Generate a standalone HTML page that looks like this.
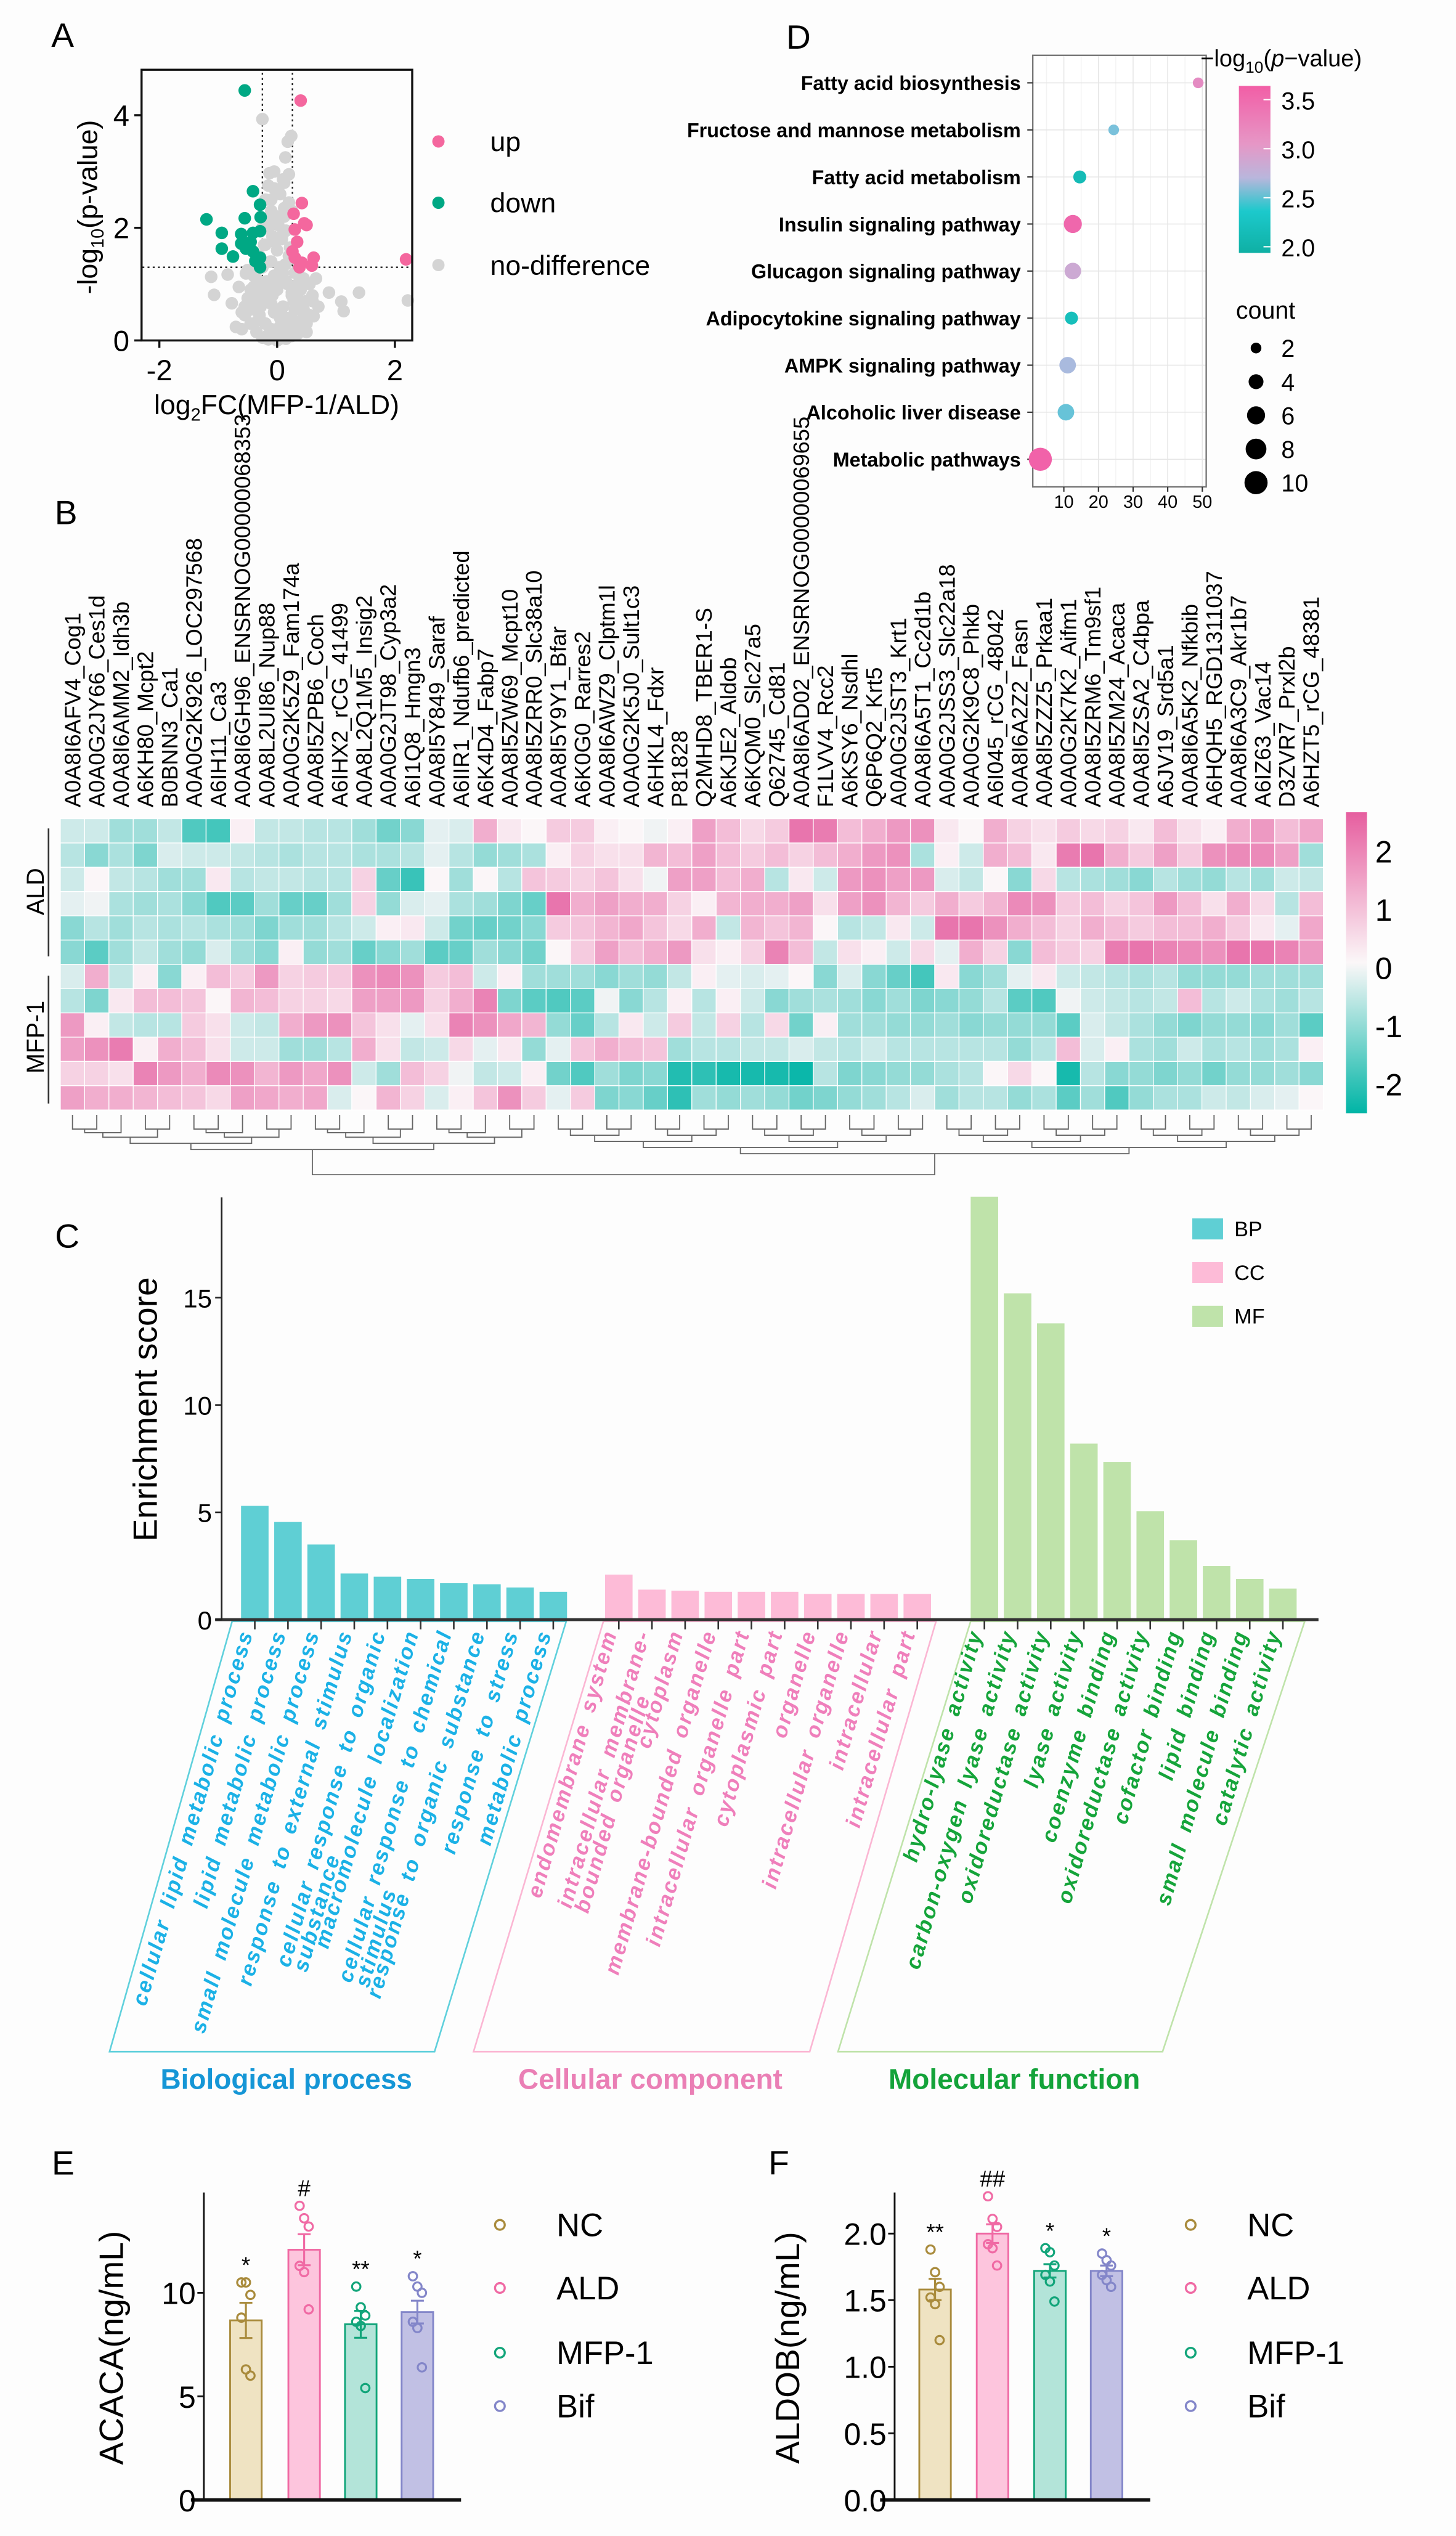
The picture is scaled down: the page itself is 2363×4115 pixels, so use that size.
<!DOCTYPE html>
<html><head><meta charset="utf-8"><style>
html,body{margin:0;padding:0;background:#fdfdfd;}
svg{display:block;font-family:"Liberation Sans",Arial,sans-serif;}
</style></head><body>
<svg id="fig" xmlns="http://www.w3.org/2000/svg" width="2363" height="4115" viewBox="0 0 900 1567.3">
<rect x="0" y="0" width="900" height="1567.3" fill="#fdfdfd"/>
<defs>
<linearGradient id="gD" x1="0" y1="0" x2="0" y2="1">
<stop offset="0" stop-color="#f25ea6"/><stop offset="0.35" stop-color="#e697c6"/><stop offset="0.55" stop-color="#b9b6dc"/><stop offset="0.75" stop-color="#1cc9cc"/><stop offset="1" stop-color="#0fb0a4"/>
</linearGradient>
<linearGradient id="gH" x1="0" y1="0" x2="0" y2="1">
<stop offset="0" stop-color="#e65e9f"/><stop offset="0.5" stop-color="#fbf7f8"/><stop offset="1" stop-color="#00b5a6"/>
</linearGradient>
</defs>
<g id="root"></g>
</svg>
<script>
// ---------- DATA ----------
// Panel A volcano
const upX=[0.40,0.42,0.28,0.46,0.30,0.34,0.26,0.30,0.42,0.62,0.59,2.19,0.38,0.50];
const upY=[4.26,2.44,2.25,2.08,1.97,1.75,1.58,1.47,1.38,1.47,1.33,1.44,1.30,2.05];
const downX=[-0.55,-0.41,-0.29,-0.28,-1.20,-0.55,-0.94,-0.61,-0.41,-0.29,-0.94,-0.61,-0.45,-0.75,-0.41,-0.29,-0.37,-0.29,-0.53];
const downY=[4.44,2.65,2.41,2.19,2.15,2.17,1.91,1.89,1.91,1.94,1.63,1.72,1.75,1.49,1.58,1.47,1.41,1.30,1.63];
const greyX=[-0.25,0.24,0.18,0.14,-0.13,0.10,-0.05,0.05,-0.2,0.2,-0.1,0.12,-0.15,0.02,0.15,-0.08,0.08,-0.22,0.22,0.0,-0.3,0.3,-0.12,0.14,-0.35,0.35,-0.05,0.06,-0.18,0.18,-0.4,0.4,-0.25,0.25,-0.5,0.5,-0.1,0.1,-0.45,0.45,-0.6,0.55,-0.3,0.3,-0.2,0.2,0,-0.35,0.35,-0.15,0.15,-0.55,0.5,-0.02,0.03,-1.12,-0.84,-1.07,0.88,1.39,1.09,1.13,2.22,0.62,-0.70,0.66,-0.77,-0.53,0.38,-0.4,0.42,-0.28,0.28,-0.1,0.1,0.05,-0.05,0.6,-0.65,0.7,0.25,-0.25,0.0,0.12,-0.12,
 -0.45,-0.35,-0.25,-0.15,0,0.15,0.25,0.35,0.45,-0.4,-0.3,-0.2,-0.1,0.05,0.2,0.3,0.4,-0.45,-0.35,-0.2,-0.05,0.1,0.25,0.35,-0.4,-0.3,-0.15,0.0,0.15,0.3,0.45,-0.25,-0.1,0.05,0.2,-0.2,-0.05,0.1,-0.15,0.0,0.12,-0.1,0.05,-0.15,0.12,0.2,-0.05,0.55,0.6,-0.55,-0.6,0.5,0.45,-0.5,0.3,-0.35,0.0,0.08,-0.08,0.05];
const greyY=[3.93,3.63,3.53,3.25,2.97,2.86,2.7,2.6,2.5,2.45,2.3,2.2,2.1,2.05,1.95,1.85,1.8,1.7,1.65,1.6,1.5,1.45,1.4,1.35,1.25,1.2,1.15,1.1,1.05,1.0,0.95,0.9,0.85,0.8,0.75,0.7,0.65,0.6,0.55,0.5,0.5,0.45,0.4,0.35,0.3,0.25,0.2,0.15,0.12,0.1,0.08,0.6,0.3,0.05,0.02,1.13,1.17,0.81,0.85,0.85,0.69,0.52,0.71,0.43,0.24,1.10,0.66,1.19,0.18,0.3,0.2,0.6,0.7,0.9,1.2,0.4,0.5,0.8,0.95,0.6,2.3,2.0,1.0,0.3,0.7,
 0.3,0.15,0.05,0.02,0.0,0.03,0.08,0.2,0.35,0.6,0.45,0.3,0.2,0.25,0.4,0.55,0.7,0.9,0.8,0.7,0.5,0.6,0.85,1.0,1.15,1.05,0.95,0.9,1.05,1.2,1.1,1.3,1.4,1.3,1.5,1.7,1.75,1.9,2.0,2.2,2.35,2.5,2.6,2.75,2.8,2.95,3.0,1.0,0.7,0.45,0.2,0.15,0.55,1.25,0.3,0.55,0.1,0.45,0.8,1.1];
const volcXTicks=[-2,0,2];
const volcYTicks=[0,2,4];

// Panel D KEGG bubble
const keggTerms=["Fatty acid biosynthesis","Fructose and mannose metabolism","Fatty acid metabolism","Insulin signaling pathway","Glucagon signaling pathway","Adipocytokine signaling pathway","AMPK signaling pathway","Alcoholic liver disease","Metabolic pathways"];
const keggRich=[48.8,24.4,14.6,12.6,12.6,12.2,11.1,10.6,3.2];
const keggP=[3.2,2.55,2.1,3.55,2.9,2.15,2.7,2.5,3.6];
const keggCount=[2,2,3,6,5,3,5,5,10];
const keggXTicks=[10,20,30,40,50];
const keggPTicks=[2.0,2.5,3.0,3.5];
const keggCountLegend=[2,4,6,8,10];

// Panel B heatmap
const geneNames=["A0A8I6AFV4_Cog1","A0A0G2JY66_Ces1d","A0A8I6AMM2_Idh3b","A6KH80_Mcpt2","B0BNN3_Ca1","A0A0G2K926_LOC297568","A6IH11_Ca3","A0A8I6GH96_ENSRNOG00000068353","A0A8L2UI86_Nup88","A0A0G2K5Z9_Fam174a","A0A8I5ZPB6_Coch","A6IHX2_rCG_41499","A0A8L2Q1M5_Insig2","A0A0G2JT98_Cyp3a2","A6I1Q8_Hmgn3","A0A8I5Y849_Saraf","A6IIR1_Ndufb6_predicted","A6K4D4_Fabp7","A0A8I5ZW69_Mcpt10","A0A8I5ZRR0_Slc38a10","A0A8I5Y9Y1_Bfar","A6K0G0_Rarres2","A0A8I6AWZ9_Clptm1l","A0A0G2K5J0_Sult1c3","A6HKL4_Fdxr","P81828","Q2MHD8_TBER1-S","A6KJE2_Aldob","A6KQM0_Slc27a5","Q62745_Cd81","A0A8I6AD02_ENSRNOG00000069655","F1LVV4_Rcc2","A6KSY6_Nsdhl","Q6P6Q2_Krt5","A0A0G2JST3_Krt1","A0A8I6A5T1_Cc2d1b","A0A0G2JSS3_Slc22a18","A0A0G2K9C8_Phkb","A6I045_rCG_48042","A0A8I6A2Z2_Fasn","A0A8I5ZZZ5_Prkaa1","A0A0G2K7K2_Aifm1","A0A8I5ZRM6_Tm9sf1","A0A8I5ZM24_Acaca","A0A8I5ZSA2_C4bpa","A6JV19_Srd5a1","A0A8I6A5K2_Nfkbib","A6HQH5_RGD1311037","A0A8I6A3C9_Akr1b7","A6IZ63_Vac14","D3ZVR7_Prxl2b","A6HZT5_rCG_48381"];
const hmRow1=[-0.4,-0.4,-0.8,-0.8,-0.5,-1.5,-1.6,0.1,-0.5,-0.5,-0.6,-0.6,-0.8,-1.2,-1.0,-0.2,-0.3,1.0,0.2,0,0.6,0.6,0.1,0,-0.1,0.1,1.2,0.8,0.4,0.6,1.8,1.7,0.8,1.0,1.3,1.4,0.2,0,1.0,0.5,0.3,0.6,0.4,0.5,0.2,0.8,0.3,0.1,1.0,1.3,0.8,1.1];
const hmRow2=[-0.6,-1.0,-0.7,-1.1,-0.3,-0.4,-0.4,-0.5,-0.6,-0.7,-0.6,-0.6,-0.7,-0.7,-0.6,-0.2,-0.6,-0.9,-0.8,-0.7,0.1,0.5,0.3,0.3,0.9,0.8,1.2,0.8,0.6,0.8,0.5,0.8,1.0,1.3,1.4,-0.7,0.1,-0.4,1.0,0.8,0.2,1.7,1.8,1.0,0.6,1.2,0.6,1.4,1.5,1.5,1.2,-0.8];
const hmRow3=[-0.4,0,-0.5,-0.6,-0.8,-0.8,0.2,-0.6,-0.5,-0.5,-0.6,-0.6,0.5,-1.3,-1.7,0,-0.8,0,-0.6,0.7,0.6,0.5,0.7,0.3,-0.1,1.2,1.2,0.8,1.0,-0.6,0.2,-0.4,1.3,1.4,1.2,1.3,-0.3,-0.5,0,-1.0,0.4,-0.6,-0.7,-0.8,-1.0,-0.6,-0.8,-0.9,-0.6,-0.8,-0.4,-0.5];
const hmRow4=[-0.2,-0.1,-0.7,-0.8,-0.7,-1.0,-1.5,-1.4,-0.8,-1.3,-1.3,-0.8,0.5,-0.9,-0.3,-0.2,-0.7,-0.8,-1.1,-1.3,1.8,1.0,1.2,1.0,1.0,0.5,0.1,0.9,1.0,1.0,1.2,0.3,1.2,1.4,0.9,0.6,1.0,0.6,0.9,1.5,1.4,0.6,0.8,0.5,0.7,1.3,0.8,0.3,1.0,0.4,-0.6,0.8];
const hmRow5=[-1.0,-0.6,-0.8,-0.6,-0.7,-0.6,-0.7,-0.8,-1.1,-0.8,-0.8,-0.6,-0.4,0.1,0.2,-0.4,-1.2,-1.3,-1.2,-1.0,0.6,0.7,0.9,1.1,0.7,0.4,1.0,-0.5,0.9,0.7,0.9,0,-0.6,-0.5,0.2,-0.4,1.8,1.8,1.4,1.0,0.8,0.5,1.0,0.8,0.6,0.8,0.8,1.0,0.6,0.2,-0.2,1.1];
const hmRow6=[-1.0,-1.4,-0.8,-0.5,-0.8,-0.9,-0.3,-0.8,-1.0,0.1,-0.9,-0.8,-1.3,-1.0,-0.8,-1.4,-1.3,-0.8,-1.0,-1.2,0,0.6,1.2,0.8,1.0,1.3,0.3,0.1,0.5,1.6,0.8,-0.5,0.3,0.1,-0.4,0.4,-0.2,1.0,0.5,-1.0,0.8,0.6,0.5,1.7,1.8,1.6,1.5,1.4,1.8,1.8,1.6,1.3];
const hmRow7=[-0.3,1.0,-0.5,0.1,-1.0,0.1,0.8,0.6,1.3,0.5,0.6,0.6,1.4,1.5,1.4,0.6,0.8,-0.4,0.1,-0.8,-0.8,-0.8,-1.0,-0.8,-0.9,-0.5,0.1,-0.2,-0.3,-0.2,0,-1.0,-0.3,-1.0,-1.3,-1.6,0.2,-1.0,-0.8,-0.2,0.2,-0.4,-0.5,-0.6,-0.7,-0.6,-0.9,-0.9,-0.9,-0.8,-0.8,-0.8];
const hmRow8=[-0.6,-1.1,0.2,0.8,0.8,0.7,0,0.9,0.8,0.5,0.5,0.4,1.2,1.2,1.3,0.5,1.0,1.6,-1.1,-1.4,-1.5,-1.4,-0.1,-1.0,-0.6,0.1,-0.6,0.1,-0.4,-1.0,-0.8,-0.7,-0.8,-1.0,-0.8,-1.1,-1.0,-0.9,-0.6,-1.4,-1.5,-0.1,-0.4,-0.5,-0.6,-0.5,0.8,-0.6,-0.4,-0.7,-0.8,-0.6];
const hmRow9=[1.3,0.1,-0.5,-0.6,-0.6,0.6,0.3,-0.4,-0.5,1.0,1.3,1.4,0.7,0.3,-0.2,0.3,1.6,1.4,1.1,0.9,-0.9,-1.3,-0.6,0.2,-0.4,0.6,-0.5,0.5,-0.6,0.4,-1.2,0.1,-0.8,-0.8,-0.9,-0.9,-0.8,-1.0,-0.9,-0.9,-0.9,-1.4,-0.3,-0.5,-0.7,-0.9,-1.1,-0.9,-0.9,-1.0,-0.8,-1.4];
const hmRow10=[1.2,1.4,1.7,0.1,1.0,0.8,0.3,-0.4,-0.4,-0.8,-0.8,-0.6,1.0,0.3,-0.5,-0.4,0.4,-0.2,0.2,-0.9,-0.2,0.7,1.0,0.8,0.7,-0.8,-0.6,-0.6,-0.5,-0.5,-0.3,-0.5,-0.6,-0.4,-0.6,-0.6,-0.6,-0.6,-0.6,-0.9,-0.6,0.8,-0.3,0.1,-0.7,-0.8,-0.4,-0.7,-0.6,-0.8,-0.7,0.1];
const hmRow11=[0.5,0.5,0.3,1.6,1.3,1.0,1.5,1.4,0.9,1.3,1.1,1.4,-0.4,-0.8,0.8,0.5,-0.1,-0.5,-0.4,0.1,-1.2,-1.5,-0.8,-1.1,-1.0,-1.9,-1.8,-2.0,-2.0,-2.0,-2.1,-0.6,-1.1,-1.0,-0.9,-0.9,-0.7,-0.6,0,0.4,0,-2.0,-0.6,-1.0,-0.9,-1.1,-0.9,-1.2,-0.9,-0.9,-0.8,-1.0];
const hmRow12=[1.2,1.0,1.0,0.9,0.8,0.7,0.4,1.2,1.1,1.0,1.1,-0.3,0,0.9,0.5,-0.3,0.1,0.7,1.4,0.6,-0.2,0.6,-1.1,-1.0,-1.3,-1.8,-0.8,-0.9,-0.8,-0.9,-1.2,-1.1,-0.9,-0.8,-0.6,-0.3,-0.8,-0.6,-0.6,-0.9,-0.7,-1.4,-0.8,-1.5,-0.9,-0.7,-0.7,-0.4,-0.5,-0.3,-0.2,0];
const hmTicks=[2,1,0,-1,-2];

// Panel C GO enrichment
const bpTerms=[["cellular lipid metabolic process"],["lipid metabolic process"],["small molecule metabolic process"],["response to external stimulus"],["cellular response to organic","substance"],["macromolecule localization"],["cellular response to chemical","stimulus"],["response to organic substance"],["response to stress"],["metabolic process"]];
const bpScores=[5.3,4.55,3.5,2.15,2.0,1.9,1.7,1.65,1.5,1.3];
const ccTerms=[["endomembrane system"],["intracellular membrane-","bounded organelle"],["cytoplasm"],["membrane-bounded organelle"],["intracellular organelle part"],["cytoplasmic part"],["organelle"],["intracellular organelle"],["intracellular"],["intracellular part"]];
const ccScores=[2.1,1.4,1.35,1.3,1.3,1.3,1.2,1.2,1.2,1.2];
const mfTerms=[["hydro-lyase activity"],["carbon-oxygen lyase activity"],["oxidoreductase activity"],["lyase activity"],["coenzyme binding"],["oxidoreductase activity"],["cofactor binding"],["lipid binding"],["small molecule binding"],["catalytic activity"]];
const mfScores=[19.7,15.2,13.8,8.2,7.35,5.05,3.7,2.5,1.9,1.45];
const goTicks=[0,5,10,15];

// Panels E/F
const groups=["NC","ALD","MFP-1","Bif"];
const acacaMean=[8.67,12.08,8.48,9.07];
const acacaSem=[0.85,0.75,0.65,0.55];
const acacaPts=[[10.5,10.5,9.9,8.8,6.3,6.0],[14.2,13.6,13.2,11.3,11.0,9.2],[10.3,9.3,8.9,8.6,8.4,5.4],[10.8,10.3,10.0,8.6,8.3,6.4]];
const acacaSig=["*","#","**","*"];
const acacaTicks=[0,5,10];
const aldobMean=[1.58,2.0,1.72,1.72];
const aldobSem=[0.08,0.07,0.05,0.04];
const aldobPts=[[1.88,1.71,1.60,1.52,1.47,1.20],[2.28,2.11,2.05,1.92,1.89,1.76],[1.89,1.86,1.76,1.69,1.64,1.49],[1.85,1.80,1.76,1.69,1.65,1.60]];
const aldobSig=["**","##","*","*"];
const aldobTicks=[0.0,0.5,1.0,1.5,2.0];

// ---------- HELPERS ----------
const NS="http://www.w3.org/2000/svg";
const root=document.getElementById('root');
function mk(tag,attrs,parent){const e=document.createElementNS(NS,tag);for(const k in attrs)e.setAttribute(k,attrs[k]);(parent||root).appendChild(e);return e;}
function txt(str,attrs,parent){const e=mk('text',attrs,parent);e.textContent=str;return e;}
function grp(parent){return mk('g',{},parent);}

// ---------- PANEL LETTERS ----------
const letters=[["A",38.7,29],["D",493,30],["B",40.8,324],["C",41,771],["E",39,1344],["F",482,1344]];
letters.forEach(l=>{
  const t=txt(l[0],{x:l[1]-7,y:l[2],'font-size':21});
  
  
});

// ---------- PANEL A ----------
(function(){
  const g=grp();
  
  
  const x0=171.3,xs=36.4,y0=210.4,ys=34.8;
  const X=v=>x0+v*xs, Y=v=>y0-v*ys;
  const l1=mk('line',{x1:X(-0.25),x2:X(-0.25),y1:45,y2:210,stroke:'#222','stroke-width':0.9,'stroke-dasharray':'1.2,2'},g);
  
  
  const l2=mk('line',{x1:X(0.26),x2:X(0.26),y1:45,y2:210,stroke:'#222','stroke-width':0.9,'stroke-dasharray':'1.2,2'},g);
  
  
  const l3=mk('line',{x1:88,x2:254,y1:Y(1.3),y2:Y(1.3),stroke:'#222','stroke-width':0.9,'stroke-dasharray':'1.2,2'},g);
  
  
  const n1=Math.min(greyX.length,greyY.length);
  for(let i=0;i<n1;i++){const c=mk('circle',{cx:X(greyX[i]),cy:Y(greyY[i]),r:3.9,fill:'#d4d4d4'},g);
    
    }
  for(let i=0;i<downX.length;i++){const c=mk('circle',{cx:X(downX[i]),cy:Y(downY[i]),r:3.9,fill:'#00a884'},g);
    
    }
  for(let i=0;i<upX.length;i++){const c=mk('circle',{cx:X(upX[i]),cy:Y(upY[i]),r:3.9,fill:'#f4679e'},g);
    
    }
  const box=mk('path',{d:'M87.5,43.1 H254.8 V210.4 H87.5 Z',fill:'none',stroke:'#111','stroke-width':1.3},g);
  
  
  volcXTicks.forEach(v=>{
    const t=mk('line',{x1:X(v),x2:X(v),y1:210.4,y2:215,stroke:'#111','stroke-width':1.3},g);
    
    
    const l=txt(v<0?'-'+Math.abs(v):String(v),{x:X(v),y:235,'font-size':18,'text-anchor':'middle'},g);
    
    
  });
  volcYTicks.forEach(v=>{
    const t=mk('line',{x1:83,x2:87.5,y1:Y(v),y2:Y(v),stroke:'#111','stroke-width':1.3},g);
    
    
    const l=txt(String(v),{x:80,y:Y(v)+6.5,'font-size':18,'text-anchor':'end'},g);
    
    
  });
  const yl=mk('text',{x:0,y:0,'font-size':17,'text-anchor':'middle',transform:'translate(60,128) rotate(-90)'},g);
  yl.innerHTML='-log<tspan font-size="11" dy="4">10</tspan><tspan dy="-4">(p-value)</tspan>';
  
  
  const xl=mk('text',{x:171,y:256,'font-size':17,'text-anchor':'middle'},g);
  xl.innerHTML='log<tspan font-size="11" dy="4">2</tspan><tspan dy="-4">FC(MFP-1/ALD)</tspan>';
  
  
  const leg=[['up','#f4679e',87.4],['down','#00a884',125.3],['no-difference','#d4d4d4',163.8]];
  leg.forEach(L=>{
    const c=mk('circle',{cx:271,cy:L[2],r:3.8,fill:L[1]},g);
    
    
    const t=txt(L[0],{x:303,y:L[2]+6,'font-size':17},g);
    
    
  });
})();

// ---------- PANEL D ----------
(function(){
  const g=grp();
  
  
  const left=638.4,right=745.6,top=34.2,bot=300.9;
  const X=v=>636.2+v*2.14;
  const rowY=i=>51.2+i*29.08;
  const bg=mk('rect',{x:left,y:top,width:right-left,height:bot-top,fill:'#ffffff'},g);
  
  
  for(let v=5;v<=50;v+=5){const gl=mk('line',{x1:X(v),x2:X(v),y1:top,y2:bot,stroke:v%10?'#f3f3f3':'#e6e6e6','stroke-width':0.6},g);
    
    }
  keggTerms.forEach((t,i)=>{const gl=mk('line',{x1:left,x2:right,y1:rowY(i),y2:rowY(i),stroke:'#e6e6e6','stroke-width':0.6},g);
    
    });
  const fr=mk('rect',{x:left,y:top,width:right-left,height:bot-top,fill:'none',stroke:'#777','stroke-width':0.9},g);
  
  
  function pcol(p){
    const stops=[[1.94,[15,176,164]],[2.3,[28,201,204]],[2.65,[160,190,225]],[3.0,[222,160,206]],[3.64,[242,94,166]]];
    for(let i=1;i<stops.length;i++){if(p<=stops[i][0]){const a=stops[i-1],b=stops[i],f=(p-a[0])/(b[0]-a[0]);
      return 'rgb('+a[1].map((c,k)=>Math.round(c+(b[1][k]-c)*f)).join(',')+')';}}
    return 'rgb(242,94,166)';
  }
  const R=c=>2.2*Math.sqrt(c)+0.2;
  keggTerms.forEach((t,i)=>{
    const l=txt(t,{x:631,y:rowY(i)+4.5,'font-size':12.3,'font-weight':'bold','text-anchor':'end'},g);
    
    
    const tk=mk('line',{x1:635,x2:638.4,y1:rowY(i),y2:rowY(i),stroke:'#333','stroke-width':0.8},g);
    
    
    const c=mk('circle',{cx:X(keggRich[i]),cy:rowY(i),r:R(keggCount[i]),fill:pcol(keggP[i])},g);
    
    
  });
  keggXTicks.forEach(v=>{
    const tk=mk('line',{x1:X(v),x2:X(v),y1:bot,y2:bot+3,stroke:'#333','stroke-width':0.8},g);
    
    
    const l=txt(String(v),{x:X(v),y:bot+13,'font-size':11,'text-anchor':'middle'},g);
    
    
  });
  const ct=mk('text',{x:742,y:41,'font-size':14.5},g);
  ct.innerHTML='−log<tspan font-size="10" dy="4">10</tspan><tspan dy="-4">(</tspan><tspan font-style="italic">p</tspan>−value)';
  
  
  const cb=mk('rect',{x:765.8,y:53.1,width:19.5,height:103.2,fill:'url(#gD)'},g);
  
  
  const PY=p=>152.5-(p-2.0)*60.6;
  keggPTicks.forEach(p=>{
    const l=txt(p.toFixed(1),{x:792,y:PY(p)+6,'font-size':15},g);
    
    
    const tk=mk('line',{x1:781,x2:785.3,y1:PY(p),y2:PY(p),stroke:'#fff','stroke-width':0.8},g);
    
    
  });
  const cnt=txt('count',{x:764,y:197,'font-size':15},g);
  
  
  keggCountLegend.forEach((c,i)=>{
    const y=215.1+i*20.8;
    const d=mk('circle',{cx:776.4,cy:y,r:R(c),fill:'#000'},g);
    
    
    const l=txt(String(c),{x:792,y:y+5.5,'font-size':15},g);
    
    
  });
})();

// ---------- PANEL B ----------
(function(){
  const g=grp();
  
  
  const rows=[hmRow1,hmRow2,hmRow3,hmRow4,hmRow5,hmRow6,hmRow7,hmRow8,hmRow9,hmRow10,hmRow11,hmRow12];
  const x0=37.3,cw=(818-37.3)/52,y0=506,ch=15;
  function col(v){
    const w=[251,246,248],p=[228,88,156],t=[0,180,166];
    const f=Math.min(1,Math.abs(v)/2.2),tg=v>=0?p:t;
    return 'rgb('+w.map((c,k)=>Math.round(c+(tg[k]-c)*f)).join(',')+')';
  }
  rows.forEach((r,ri)=>{
    r.forEach((v,ci)=>{
      const c=mk('rect',{x:x0+ci*cw,y:y0+ri*ch,width:cw,height:ch,fill:col(v),stroke:'#ffffff','stroke-width':0.5},g);
      
      
    });
  });
  geneNames.forEach((n,ci)=>{
    const cx=x0+ci*cw+cw/2+4.8;
    const t=txt(n,{x:0,y:0,'font-size':13.8,transform:'translate('+cx+',499) rotate(-90)'},g);
    
    
  });
  const ga=mk('line',{x1:30,x2:30,y1:512,y2:591,stroke:'#333','stroke-width':1},g);
  
  
  const gb=mk('line',{x1:30,x2:30,y1:603,y2:682,stroke:'#333','stroke-width':1},g);
  
  
  const la=txt('ALD',{x:0,y:0,'font-size':15,'text-anchor':'middle',transform:'translate(27,551) rotate(-90)'},g);
  
  
  const lb=txt('MFP-1',{x:0,y:0,'font-size':15,'text-anchor':'middle',transform:'translate(27,641) rotate(-90)'},g);
  
  
  const cb=mk('rect',{x:832,y:502,width:13,height:186,fill:'url(#gH)'},g);
  
  
  hmTicks.forEach(v=>{
    const l=txt(v<0?'-'+Math.abs(v):String(v),{x:850,y:598-v*36+7,'font-size':19},g);
    
    
  });
  const dg=grp(g);
  
  
  const N=52;
  function build(lo,hi){
    if(lo===hi) return {x:x0+lo*cw+cw/2,y:689};
    let mid=Math.floor((lo+hi)/2);
    if(lo===0&&hi===N-1) mid=19;
    const a=build(lo,mid),b=build(mid+1,hi);
    const size=hi-lo+1;
    const y=(lo===0&&hi===N-1)?726:Math.min(718,694+19*Math.log(size)/Math.log(32));
    const p=mk('path',{d:'M'+a.x+','+a.y+' V'+y+' H'+b.x+' V'+b.y,fill:'none',stroke:'#666','stroke-width':0.7},dg);
    
    
    return {x:(a.x+b.x)/2,y:y};
  }
  build(0,N-1);
})();

// ---------- PANEL C ----------
(function(){
  const g=grp();
  
  
  const y0=1001,ys=13.27,bw=17,pitch=20.5;
  const Y=v=>y0-v*ys;
  const sets=[
    {terms:bpTerms,scores:bpScores,start:149,fill:'#5fcfd4',tc:'#1bb1e6',name:'bp'},
    {terms:ccTerms,scores:ccScores,start:374,fill:'#fdbbd7',tc:'#ef7fbb',name:'cc'},
    {terms:mfTerms,scores:mfScores,start:600,fill:'#bfe3aa',tc:'#15a43a',name:'mf'}];
  const boxes=[["bp",'#5fd0dc',[[143.5,1002],[350,1002],[268.6,1268],[67.7,1268]]],["cc",'#fbb6d3',[[373,1002],[578.6,1002],[500.5,1268],[292.7,1268]]],["mf",'#bfe3aa',[[600,1002],[806.5,1002],[718.6,1268],[518,1268]]]];
  boxes.forEach(b=>{
    const p=mk('polygon',{points:b[2].map(q=>q.join(',')).join(' '),fill:'none',stroke:b[1],'stroke-width':1},g);
    
    
  });
  sets.forEach(s=>{
    s.scores.forEach((v,i)=>{
      const x=s.start+i*pitch;
      const r=mk('rect',{x:x,y:Y(v),width:bw,height:v*ys,fill:s.fill},g);
      
      
      const tk=mk('line',{x1:x+bw/2,x2:x+bw/2,y1:y0,y2:y0+6,stroke:'#333','stroke-width':1},g);
      
      
      const tx=x+bw/2-1, ty=1009;
      const t=mk('text',{x:0,y:0,'font-size':13.2,'font-weight':'bold','font-style':'italic',fill:s.tc,'letter-spacing':'1.1','word-spacing':'3',transform:'translate('+tx+','+ty+') rotate(-74)','text-anchor':'end'},g);
      
      
      const lines=s.terms[i];
      const t1=mk('tspan',{x:0,y:0},t);t1.textContent=lines[0];
      if(lines.length>1){
        let len=0;try{len=t1.getComputedTextLength();}catch(e){len=lines[0].length*8.5;}
        const t2=mk('tspan',{x:-len,y:11,'text-anchor':'start'},t);t2.textContent=lines[1];
      }
    });
  });
  const ax=mk('line',{x1:133,x2:815,y1:y0,y2:y0,stroke:'#333','stroke-width':1.8},g);
  
  
  const ay=mk('line',{x1:137,x2:137,y1:740,y2:y0,stroke:'#222','stroke-width':1},g);
  
  
  goTicks.forEach(v=>{
    const tk=mk('line',{x1:133,x2:137,y1:Y(v),y2:Y(v),stroke:'#222','stroke-width':1},g);
    
    
    const l=txt(String(v),{x:131,y:Y(v)+6,'font-size':16,'text-anchor':'end'},g);
    
    
  });
  const yt=txt('Enrichment score',{x:0,y:0,'font-size':21,'text-anchor':'middle',transform:'translate(97,871) rotate(-90)'},g);
  
  
  const leg=[['BP','#5fcfd4',759],['CC','#fdbbd7',786],['MF','#bfe3aa',813]];
  leg.forEach(L=>{
    const r=mk('rect',{x:737,y:L[2]-6,width:19,height:13,fill:L[1]},g);
    
    
    const t=txt(L[0],{x:763,y:L[2]+5,'font-size':13},g);
    
    
  });
  const cats=[['Biological process','#1596d6',177],['Cellular component','#ea7fb5',402],['Molecular function','#14a33a',627]];
  cats.forEach(c=>{
    const t=txt(c[0],{x:c[2],y:1291,'font-size':17.5,'font-weight':'bold','text-anchor':'middle',fill:c[1]},g);
    
    
  });
})();

// ---------- PANELS E / F ----------
const fills=['#efe3c2','#fdc5dd','#b3e4d9','#c1c0e4'];
const strokes=['#a98b3c','#f06aa4','#12a57a','#8386c9'];
function barPanel(o){
  const g=grp();
  
  
  const Y=v=>1545-v*o.ys;
  o.mean.forEach((m,i)=>{
    const cx=o.cx[i],w=19.5;
    const r=mk('rect',{x:cx-w/2,y:Y(m),width:w,height:m*o.ys,fill:fills[i],stroke:strokes[i],'stroke-width':1.1},g);
    
    
    const e=mk('path',{d:'M'+cx+','+Y(m-o.sem[i])+' V'+Y(m+o.sem[i])+' M'+(cx-4)+','+Y(m+o.sem[i])+' H'+(cx+4)+' M'+(cx-4)+','+Y(m-o.sem[i])+' H'+(cx+4),stroke:strokes[i],'stroke-width':1.2,fill:'none'},g);
    
    
    o.pts[i].forEach((v,k)=>{
      const c=mk('circle',{cx:cx+((k%3)-1)*2.8,cy:Y(v),r:2.6,fill:'none',stroke:strokes[i],'stroke-width':1.2},g);
      
      
    });
    const top=Math.max(m+o.sem[i],Math.max.apply(null,o.pts[i]));
    const s=txt(o.sig[i],{x:cx,y:Y(top)-6,'font-size':14,'text-anchor':'middle'},g);
    
    
  });
  const ax=mk('line',{x1:o.x1,x2:o.x2,y1:1545,y2:1545,stroke:'#111','stroke-width':2.2},g);
  
  
  const ay=mk('line',{x1:o.ax,x2:o.ax,y1:1355,y2:1545,stroke:'#111','stroke-width':1.1},g);
  
  
  o.ticks.forEach(v=>{
    const tk=mk('line',{x1:o.ax-4,x2:o.ax,y1:Y(v),y2:Y(v),stroke:'#111','stroke-width':1.1},g);
    
    
    const l=txt(o.fmt(v),{x:o.ax-5,y:Y(v)+7,'font-size':19,'text-anchor':'end'},g);
    
    
  });
  const yt=txt(o.title,{x:0,y:0,'font-size':21,'text-anchor':'middle',transform:'translate('+o.tx+',1451) rotate(-90)'},g);
  
  
  [1375,1414,1454,1487].forEach((y,i)=>{
    const c=mk('circle',{cx:o.lx,cy:y,r:3,fill:'none',stroke:strokes[i],'stroke-width':1.3},g);
    
    
    const t=txt(groups[i],{x:o.lx+35,y:y+7,'font-size':20},g);
    
    
  });
}
barPanel({name:'acaca-bar-chart',ys:12.8,mean:acacaMean,sem:acacaSem,pts:acacaPts,sig:acacaSig,ticks:acacaTicks,cx:[152,188,223,258],x1:118,x2:285,ax:126,fmt:v=>String(v),title:'ACACA(ng/mL)',tx:76,lx:309});
barPanel({name:'aldob-bar-chart',ys:82.3,mean:aldobMean,sem:aldobSem,pts:aldobPts,sig:aldobSig,ticks:aldobTicks,cx:[578,613.5,649,684],x1:544,x2:711,ax:553,fmt:v=>v.toFixed(1),title:'ALDOB(ng/mL)',tx:494,lx:736});
</script>
</body></html>
